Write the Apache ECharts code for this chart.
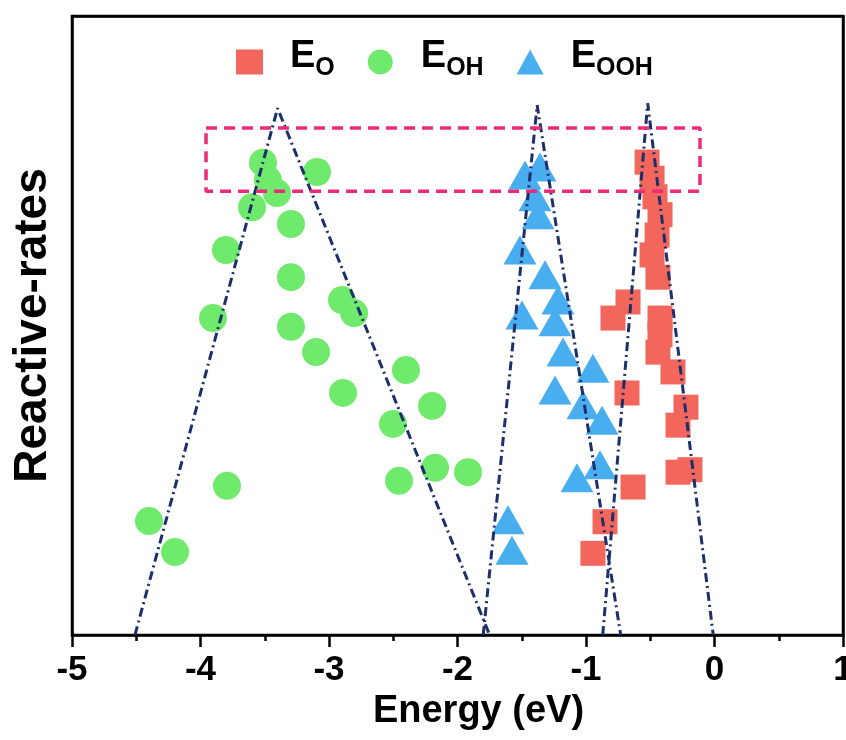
<!DOCTYPE html>
<html>
<head>
<meta charset="utf-8">
<script src="https://cdn.jsdelivr.net/npm/echarts@6/dist/echarts.min.js"></script>
<style>
html,body{margin:0;padding:0;background:#fff;}
#chart{width:846px;height:740px;}
</style>
</head>
<body>
<div id="chart"></div>
<script>
// x tick labels
var xTicks = [-5, -4, -3, -2, -1, 0, 1];

// E_O (red squares): [energy, rate]
var eO = [
  [-0.525, 76.4], [-0.486, 73.8], [-0.463, 70.8], [-0.424, 67.9], [-0.447, 64.6],
  [-0.486, 61.4], [-0.440, 57.8], [-0.673, 53.8], [-0.790, 51.2], [-0.424, 51.2],
  [-0.424, 48.5], [-0.440, 45.7], [-0.323, 42.5], [-0.681, 39.1], [-0.222, 36.8],
  [-0.284, 33.9], [-0.284, 26.3], [-0.191, 26.7], [-0.634, 23.9], [-0.852, 18.3],
  [-0.946, 13.2]
];

// E_OH (green circles)
var eOH = [
  [-3.514, 76.3], [-3.475, 73.5], [-3.405, 71.4], [-3.093, 74.8], [-3.599, 69.1],
  [-3.296, 66.4], [-3.802, 62.2], [-3.296, 57.8], [-2.899, 54.1], [-2.805, 52.0],
  [-3.903, 51.2], [-3.296, 49.8], [-3.101, 45.7], [-2.401, 42.8], [-2.891, 39.1],
  [-2.198, 37.0], [-2.502, 34.1], [-2.175, 27.0], [-1.918, 26.3], [-2.455, 24.9],
  [-3.794, 24.1], [-4.401, 18.4], [-4.198, 13.4]
];

// E_OOH (blue triangles)
var eOOH = [
  [-1.475, 74.3], [-1.358, 75.6], [-1.397, 70.8], [-1.374, 67.9], [-1.514, 62.2],
  [-1.319, 58.2], [-1.218, 54.1], [-1.498, 51.7], [-1.241, 50.6], [-1.179, 45.7],
  [-0.946, 43.1], [-1.241, 39.6], [-1.023, 37.2], [-0.875, 34.7], [-1.070, 25.4],
  [-0.891, 27.5], [-1.607, 18.6], [-1.576, 13.7]
];

// dash-dot guide triangles
var guideOH = [[-4.51, 0], [-3.40, 85.1], [-1.75, 0]];
var guideOOH = [[-1.80, 0], [-1.38, 85.6], [-0.73, 0]];
var guideO = [[-0.87, 0], [-0.52, 85.9], [-0.01, 0]];

// highlighted dashed box
var boxPts = [[-3.957, 81.9], [-0.113, 81.9], [-0.113, 71.7], [-3.957, 71.7], [-3.957, 81.9]];

var subs = { 'EO': 'O', 'EOH': 'OH', 'EOOH': 'OOH' };
var FONT = 'Liberation Sans, Arial, sans-serif';

var chart = echarts.init(document.getElementById('chart'));

function guide(data) {
  return {
    type: 'line', data: data, symbol: 'none', silent: true, z: 5,
    lineStyle: { color: '#1c2f6a', width: 3, type: [9, 4, 2, 4] }
  };
}

var frameAxisLine = { show: true, onZero: false, lineStyle: { color: '#000', width: 2.5 } };

var option = {
  backgroundColor: '#ffffff',
  animation: false,
  grid: {
    left: 72, right: 3, top: 16, bottom: 105,
    outerBoundsMode: 'none', containLabel: false,
    show: true, borderColor: '#000', borderWidth: 2.5, backgroundColor: 'transparent'
  },
  legend: {
    left: 231, top: 33,
    itemWidth: 27, itemHeight: 25, itemGap: 33,
    data: ['EO', 'EOH', 'EOOH'],
    formatter: function (name) { return '{e|E}{s|' + subs[name] + '}'; },
    textStyle: {
      padding: [0, 0, 0, 22],
      rich: {
        e: { fontSize: 38, fontWeight: 'bold', fontFamily: FONT, color: '#000', lineHeight: 38, padding: [0, 0, 10, 0] },
        s: { fontSize: 25, fontWeight: 'bold', fontFamily: FONT, color: '#000', lineHeight: 25, verticalAlign: 'bottom' }
      }
    }
  },
  xAxis: [{
    type: 'value', min: -5, max: 1, interval: 1,
    name: 'Energy (eV)', nameLocation: 'middle', nameGap: 58,
    nameTextStyle: { fontSize: 38, fontWeight: 'bold', fontFamily: FONT, color: '#000', padding: [0, 0, 0, 42] },
    axisLine: { onZero: false, lineStyle: { color: '#000', width: 2.5 } },
    axisTick: { inside: false, length: 12, lineStyle: { color: '#000', width: 2.5 } },
    minorTick: { show: true, splitNumber: 2, length: 6, lineStyle: { color: '#000', width: 2.5 } },
    splitLine: { show: false },
    axisLabel: {
      margin: 18, fontSize: 35, fontWeight: 'bold', fontFamily: FONT, color: '#000',
      formatter: function (v) { return xTicks.indexOf(v) >= 0 ? String(v) : ''; }
    }
  }, {
    type: 'value', position: 'top', min: -5, max: 1, interval: 1,
    axisLine: frameAxisLine, axisTick: { show: false }, axisLabel: { show: false }, splitLine: { show: false }
  }],
  yAxis: [{
    type: 'value', min: 0, max: 100,
    name: 'Reactive-rates', nameLocation: 'middle', nameGap: 16,
    nameTextStyle: { fontSize: 46, fontWeight: 'bold', fontFamily: FONT, color: '#000' },
    axisLine: { show: true, onZero: false, lineStyle: { color: '#000', width: 2.5 } },
    axisTick: { show: false },
    axisLabel: { show: false },
    splitLine: { show: false }
  }, {
    type: 'value', position: 'right', min: 0, max: 100,
    axisLine: frameAxisLine, axisTick: { show: false }, axisLabel: { show: false }, splitLine: { show: false }
  }],
  series: [
    { name: 'EO', type: 'scatter', data: eO, symbol: 'rect', symbolSize: 25, z: 2,
      itemStyle: { color: '#f2665c', opacity: 1 } },
    { name: 'EOH', type: 'scatter', data: eOH, symbol: 'circle', symbolSize: 28, z: 2,
      itemStyle: { color: '#6fea6c', opacity: 1 } },
    { name: 'EOOH', type: 'scatter', data: eOOH, symbol: 'triangle', symbolSize: [33, 29], z: 2,
      itemStyle: { color: '#48aef0', opacity: 1 } },
    guide(guideOH), guide(guideOOH), guide(guideO),
    { type: 'line', data: boxPts, symbol: 'none', silent: true, z: 6,
      lineStyle: { color: '#ec2a78', width: 3.5, type: [11, 7] } }
  ]
};
chart.setOption(option);
</script>
</body>
</html>
